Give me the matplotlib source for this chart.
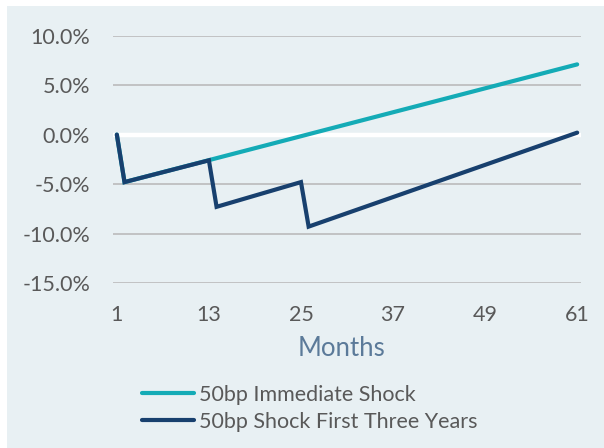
import matplotlib
matplotlib.use("Agg")
import matplotlib.pyplot as plt
from matplotlib.patches import Rectangle

# Data (vertices of the piecewise-linear series, month -> % change)
months_immediate = [1, 2, 61]
values_immediate = [0.0, -4.8, 7.1]
months_three_years = [1, 2, 13, 14, 25, 26, 61]
values_three_years = [0.0, -4.8, -2.6, -7.3, -4.8, -9.3, 0.2]
x_ticks = [1, 13, 25, 37, 49, 61]
y_ticks = [10, 5, 0, -5, -10, -15]
y_tick_labels = ["10.0%", "5.0%", "0.0%", "-5.0%", "-10.0%", "-15.0%"]
series_names = ["50bp Immediate Shock", "50bp Shock First Three Years"]

W, H = 604, 448
bg = "#e8f0f3"
teal = "#14abb6"
navy = "#18406e"
textc = "#595959"

plt.rcParams['font.family'] = ['Lato', 'DejaVu Sans']

fig = plt.figure(figsize=(W / 100, H / 100), dpi=100)
fig.patch.set_facecolor("white")
fig.patches.append(Rectangle((7 / W, 0), 1, 1 - 6 / H, transform=fig.transFigure,
                             facecolor=bg, edgecolor="none", zorder=-10))

# axes: x data 0.5..61.5 from px 113 to 581 ; y 10..-15 from 35.7 to 283
x0, x1 = 113, 581
y_top, y_bot = 35.7, 283.0
ax = fig.add_axes([x0 / W, 1 - y_bot / H, (x1 - x0) / W, (y_bot - y_top) / H])
ax.set_facecolor("none")
ax.set_xlim(0.5, 61.5)
ax.set_ylim(-15, 10)
for s in ax.spines.values():
    s.set_visible(False)

for yv in y_ticks:
    if yv == 0:
        ax.axhline(0, color="white", lw=3.2, zorder=1)
    else:
        ax.axhline(yv, color="#bfbfbf", lw=1.3, zorder=1)

ax.plot(months_immediate, values_immediate, color=teal, lw=3, solid_capstyle="round",
        solid_joinstyle="miter", zorder=3, label=series_names[0])
ax.plot(months_three_years, values_three_years, color=navy, lw=3, solid_capstyle="round",
        solid_joinstyle="miter", zorder=4, label=series_names[1])

ax.set_yticks(y_ticks)
ax.set_yticklabels(y_tick_labels)
ax.set_xticks(x_ticks)
ax.tick_params(axis="both", length=0, colors=textc, labelsize=15.5)
ax.tick_params(axis="y", pad=16.5)
ax.tick_params(axis="x", pad=16)

fig.text(341 / W, 1 - 348 / H, "Months", color="#5b7a99", fontsize=18.5,
         ha="center", va="center")

handles, labels = ax.get_legend_handles_labels()
leg = fig.legend(handles, labels, loc="upper left", bbox_to_anchor=(133 / W, 1 - 376 / H),
                 frameon=False, fontsize=15.5, labelcolor=textc, handlelength=2.45,
                 handletextpad=0.2, labelspacing=0.34, borderaxespad=0)

fig.savefig("out.png", dpi=100, facecolor=fig.get_facecolor())
